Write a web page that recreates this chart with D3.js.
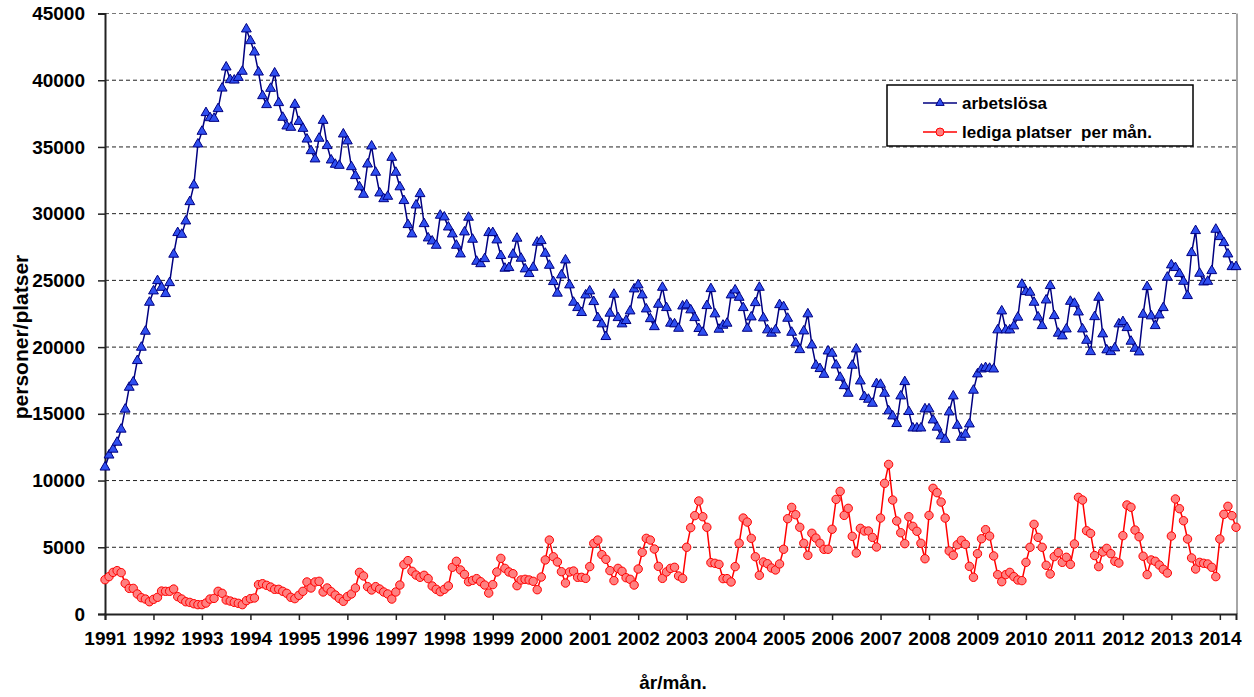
<!DOCTYPE html>
<html>
<head>
<meta charset="UTF-8">
<title>arbetslösa och lediga platser</title>
<script src="https://cdn.jsdelivr.net/npm/d3@7"></script>
<style type="text/css">
	body { margin: 0; background: #fff; }
	text { font-family: "Liberation Sans", Arial, sans-serif; font-weight: bold; fill: #000; }
</style>
</head>
<body>
<div id="chart"></div>
<script>
// tick labels for the x axis (one per January)
var yearLabels = ["1991","1992","1993","1994","1995","1996","1997","1998","1999","2000","2001","2002",
	"2003","2004","2005","2006","2007","2008","2009","2010","2011","2012","2013","2014"];

var yTicks = [0,5000,10000,15000,20000,25000,30000,35000,40000,45000];

var seriesNames = ["arbetslösa", "lediga platser  per mån."];

// monthly values, jan 1991 - may 2014
var arbetslosa = [
	11000,11900,12340,12860,13840,15340,16980,17380,18980,19980,21180,23350,
	24200,24970,24470,24000,24820,26950,28570,28440,29440,30890,32140,35210,
	36160,37560,37180,37130,37860,39400,40980,40030,40000,40200,40660,43830,
	42950,42100,40600,38830,38160,39380,40530,38310,37210,36560,36460,38180,
	36900,36380,35580,34710,34090,35640,36980,35090,34010,33690,33610,35960,
	35440,33510,32840,32000,31440,33710,35060,33090,31540,31110,31290,34210,
	33090,32000,30970,29170,28470,30640,31490,29240,28170,27940,27620,29870,
	29740,28990,28470,27620,26970,28620,29720,28070,26420,26240,26620,28570,
	28570,28020,26850,25900,25950,26950,28150,26650,25850,25500,25970,27850,
	27970,27020,26120,24900,24030,25400,26520,24650,23350,22950,22580,23900,
	24200,23400,22200,21730,20780,22530,23950,22200,21730,21980,22700,24350,
	24650,23900,22850,22120,21520,23200,24470,22950,21780,21730,21400,23070,
	23150,22780,22200,21380,21100,23100,24370,22480,21330,21630,21780,23900,
	24270,23720,22950,21400,22250,23320,24470,22180,21280,21030,21280,23170,
	23020,22150,21100,20300,19800,21200,22480,20150,18630,18380,17950,19700,
	19530,18650,17730,17100,16530,18630,19850,17450,16280,16080,15780,17250,
	17200,16530,15210,14830,14260,16330,17400,15160,13930,13930,13930,15360,
	15360,14530,13990,13340,13080,15130,16330,14130,13230,13460,14230,16760,
	17980,18350,18450,18400,18350,21280,22700,21280,21280,21580,22230,24700,
	24150,24100,23350,22250,21600,23520,24600,22350,21030,20830,21350,23420,
	23270,22620,21350,20500,19650,22270,23720,20980,19780,19650,19930,21730,
	21900,21450,20430,19900,19630,22450,24520,22330,21600,22400,22950,25230,
	26150,25950,25500,24920,23850,27070,28720,25520,24870,24920,25720,28820,
	28270,27820,26970,26020,26020
];

var ledigaPlatser = [
	2570,2800,3120,3250,3100,2300,1920,1920,1500,1220,1120,920,
	1100,1250,1720,1700,1700,1870,1300,1120,920,870,770,700,
	700,820,1120,1170,1700,1550,1050,970,870,800,700,1000,
	1150,1200,2200,2270,2150,2020,1850,1850,1700,1550,1250,1150,
	1400,1700,2400,1950,2400,2450,1650,1950,1670,1420,1170,950,
	1300,1500,1950,3120,2850,2050,1800,2050,1870,1650,1500,1120,
	1650,2170,3700,4000,3200,2920,2750,2900,2650,2100,1850,1670,
	1850,2100,3500,3950,3300,2970,2420,2520,2650,2420,2170,1570,
	2200,3150,4170,3420,3150,3020,2120,2550,2600,2550,2450,1820,
	2770,4050,5540,4290,3900,3170,2320,3150,3220,2750,2750,2670,
	3550,5290,5540,4450,4100,3250,2500,3420,3200,2720,2600,2170,
	3370,4620,5670,5540,4870,3570,2670,3150,3420,3500,2850,2670,
	5000,6470,7370,8470,7290,6500,3850,3800,3720,2650,2650,2400,
	3550,5300,7190,6890,5670,4290,2900,3900,3770,3450,3300,3750,
	4850,7140,7990,7440,6500,5300,4400,6050,5690,5300,4850,4850,
	6350,8590,9190,7390,7920,5820,4570,6420,6220,6220,5740,5020,
	7190,9790,11210,8540,6970,6090,5270,7290,6570,6200,5300,4140,
	7390,9420,9090,8390,7190,4720,4400,5190,5520,5220,3570,2750,
	4520,5640,6320,5840,4350,2950,2420,2950,3120,2800,2550,2500,
	3870,5000,6720,5740,5000,3650,3000,4300,4600,3870,4250,3720,
	5250,8740,8540,6240,6040,4380,3550,4650,4920,4520,3950,3820,
	5870,8170,8000,6290,5790,4330,2950,4050,3950,3670,3350,3070,
	5840,8620,7890,6990,5620,4200,3370,3870,3800,3750,3500,2800,
	5620,7470,8070,7370,6500
];

var width = 1254, height = 697;
// plot area edges (note: "top" is reserved on window, so use own names)
var plotLeft = 105, plotRight = 1237, plotTop = 13.5, plotBottom = 614;

var svg = d3.select("#chart").append("svg")
	.attr("width", width)
	.attr("height", height);

var x = d3.scaleLinear()
	.domain([0, arbetslosa.length - 1])
	.range([plotLeft, 1236]);

var y = d3.scaleLinear()
	.domain([0, 45000])
	.range([plotBottom, plotTop]);

// gridlines
svg.append("g").selectAll("line")
	.data(yTicks.filter(function(d){ return d > 0; }))
	.enter().append("line")
		.attr("x1", plotLeft)
		.attr("x2", plotRight)
		.attr("y1", function(d){ return y(d); })
		.attr("y2", function(d){ return y(d); })
		.attr("stroke", function(d){ return d == 45000 ? "#777" : "#222"; })
		.attr("stroke-width", 1)
		.attr("stroke-dasharray", "4,3");

// right edge of plot area
svg.append("line")
	.attr("x1", plotRight).attr("x2", plotRight)
	.attr("y1", plotTop).attr("y2", plotBottom)
	.attr("stroke", "#888").attr("stroke-width", 1.5);

// axes
var xAxis = d3.axisBottom(x)
	.tickValues(d3.range(0, arbetslosa.length, 12))
	.tickFormat(function(d, i){ return yearLabels[i]; })
	.tickSize(6)
	.tickPadding(12);

var yAxis = d3.axisLeft(y)
	.tickValues(yTicks)
	.tickFormat(d3.format("d"))
	.tickSize(7)
	.tickPadding(13);

var gx = svg.append("g")
	.attr("transform", "translate(0," + plotBottom + ")")
	.call(xAxis);
var gy = svg.append("g")
	.attr("transform", "translate(" + plotLeft + ",0)")
	.call(yAxis);

[gx, gy].forEach(function(g){
	g.select(".domain").attr("stroke", "#222").attr("stroke-width", 2);
	g.selectAll(".tick line").attr("stroke", "#222").attr("stroke-width", 1.5);
	g.selectAll("text")
		.attr("font-family", "Liberation Sans, Arial, sans-serif")
		.attr("font-weight", "bold")
		.attr("font-size", "19px")
		.attr("fill", "#000");
});

// axis titles
svg.append("text")
	.attr("transform", "translate(28,337) rotate(-90)")
	.attr("text-anchor", "middle")
	.attr("font-size", "21px")
	.text("personer/platser");

svg.append("text")
	.attr("x", 673)
	.attr("y", 689)
	.attr("text-anchor", "middle")
	.attr("font-size", "19px")
	.text("år/mån.");

var line = d3.line()
	.x(function(d, i){ return x(i); })
	.y(function(d){ return y(d); });

// lediga platser (red)
svg.append("path")
	.datum(ledigaPlatser)
	.attr("d", line)
	.attr("fill", "none")
	.attr("stroke", "#ff0000")
	.attr("stroke-width", 1.5);

svg.append("g").selectAll("circle")
	.data(ledigaPlatser)
	.enter().append("circle")
		.attr("cx", function(d, i){ return x(i); })
		.attr("cy", function(d){ return y(d); })
		.attr("r", 4.2)
		.attr("fill", "#ff8080")
		.attr("stroke", "#ff0000")
		.attr("stroke-width", 1);

// arbetslösa (blue)
svg.append("path")
	.datum(arbetslosa)
	.attr("d", line)
	.attr("fill", "none")
	.attr("stroke", "#000080")
	.attr("stroke-width", 1.5);

var tri = d3.symbol().type(d3.symbolTriangle).size(42);

svg.append("g").selectAll("path")
	.data(arbetslosa)
	.enter().append("path")
		.attr("d", tri)
		.attr("transform", function(d, i){ return "translate(" + x(i) + "," + y(d) + ")"; })
		.attr("fill", "#2f4ff0")
		.attr("stroke", "#000080")
		.attr("stroke-width", 1);

// legend
var legend = svg.append("g");
legend.append("rect")
	.attr("x", 887).attr("y", 85)
	.attr("width", 306).attr("height", 61)
	.attr("fill", "#fff")
	.attr("stroke", "#000")
	.attr("stroke-width", 1.5);

legend.append("line")
	.attr("x1", 923).attr("x2", 957).attr("y1", 103).attr("y2", 103)
	.attr("stroke", "#000080").attr("stroke-width", 1.5);
legend.append("path")
	.attr("d", d3.symbol().type(d3.symbolTriangle).size(30))
	.attr("transform", "translate(940,103)")
	.attr("fill", "#2f4ff0").attr("stroke", "#000080");
legend.append("text")
	.attr("x", 962).attr("y", 109)
	.attr("font-size", "17px")
	.text(seriesNames[0]);

legend.append("line")
	.attr("x1", 923).attr("x2", 957).attr("y1", 132).attr("y2", 132)
	.attr("stroke", "#ff0000").attr("stroke-width", 1.5);
legend.append("circle")
	.attr("cx", 940).attr("cy", 132).attr("r", 4)
	.attr("fill", "#ff8080").attr("stroke", "#ff0000");
legend.append("text")
	.attr("x", 962).attr("y", 138)
	.attr("font-size", "17px")
	.style("white-space", "pre")
	.text(seriesNames[1]);
</script>
</body>
</html>
